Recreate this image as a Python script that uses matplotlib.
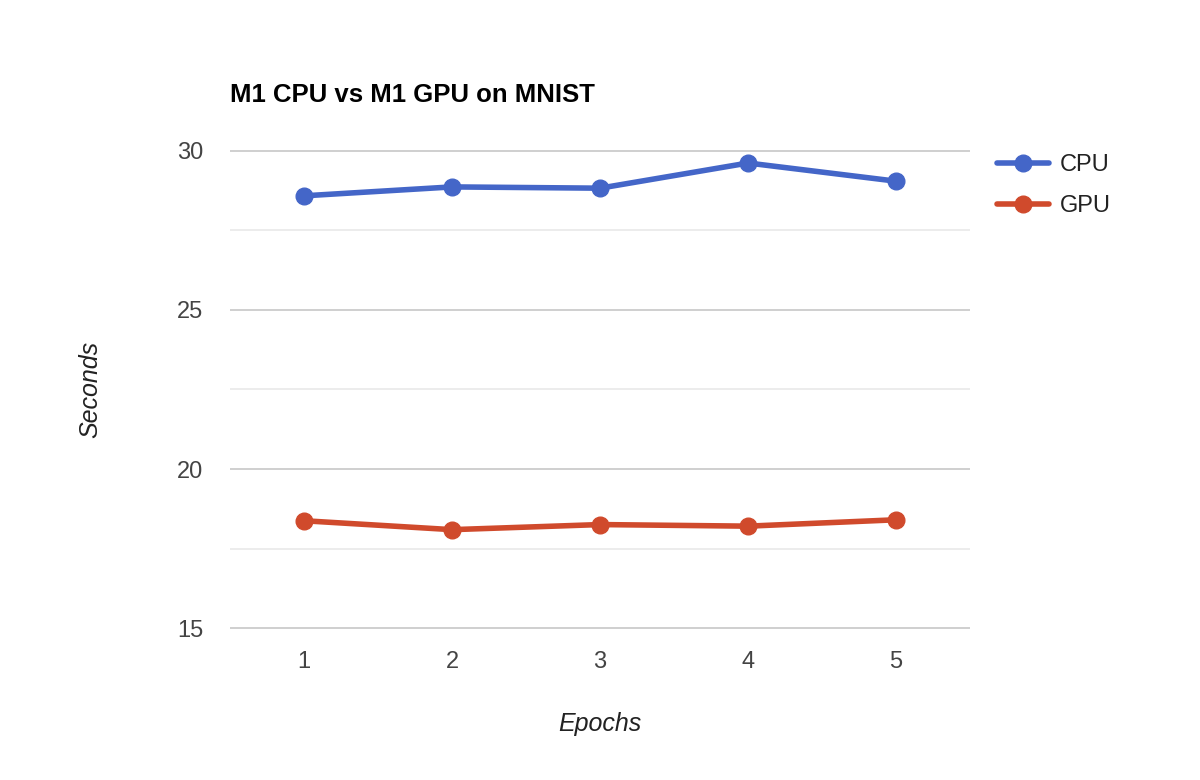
import matplotlib
matplotlib.use("Agg")
import matplotlib.pyplot as plt
from matplotlib.ticker import MultipleLocator

epochs = [1, 2, 3, 4, 5]
cpu_seconds = [28.58, 28.86, 28.82, 29.61, 29.04]
gpu_seconds = [18.38, 18.10, 18.26, 18.21, 18.41]
y_ticks = [15, 20, 25, 30]

plt.rcParams['font.family'] = ['Liberation Sans', 'DejaVu Sans']

fig = plt.figure(figsize=(12, 7.8), dpi=100)
ax = fig.add_axes([230 / 1200, 1 - 630 / 780, 740 / 1200, 481 / 780])

ax.plot(epochs, cpu_seconds, color='#4466c8', lw=4, marker='o', ms=12,
        label='CPU', solid_capstyle='round', zorder=3)
ax.plot(epochs, gpu_seconds, color='#d04a2c', lw=4, marker='o', ms=12,
        label='GPU', solid_capstyle='round', zorder=3)

ax.set_xlim(0.5, 5.5)
ax.set_xticks(epochs)
ax.set_yticks(y_ticks)
ax.yaxis.set_minor_locator(MultipleLocator(2.5))
ax.grid(axis='y', which='major', color='#cccccc', lw=1.3)
ax.grid(axis='y', which='minor', color='#ebebeb', lw=1.3)
ax.set_axisbelow(True)
for s in ax.spines.values():
    s.set_visible(False)
ax.tick_params(which='both', length=0, labelsize=17, colors='#444444')
ax.tick_params(axis='y', pad=19)
ax.tick_params(axis='x', pad=15)
ax.set_ylim(14.95, 30.05)

ax.set_xlabel('Epochs', style='italic', fontsize=18, color='#222222', labelpad=28)
ax.set_ylabel('Seconds', style='italic', fontsize=18, color='#222222', labelpad=54)

fig.text(230 / 1200, 1 - 95 / 780, 'M1 CPU vs M1 GPU on MNIST', fontsize=18.5,
         fontweight='bold', color='#000000', va='center', ha='left')

leg = fig.legend(loc='upper left', bbox_to_anchor=(997 / 1200, 1 - 154 / 780),
                 frameon=False, borderpad=0, borderaxespad=0,
                 fontsize=17, handlelength=2.2, labelspacing=0.8, handletextpad=0.45)
for t in leg.get_texts():
    t.set_color('#222222')

fig.savefig('out.png', dpi=100, facecolor='white')
